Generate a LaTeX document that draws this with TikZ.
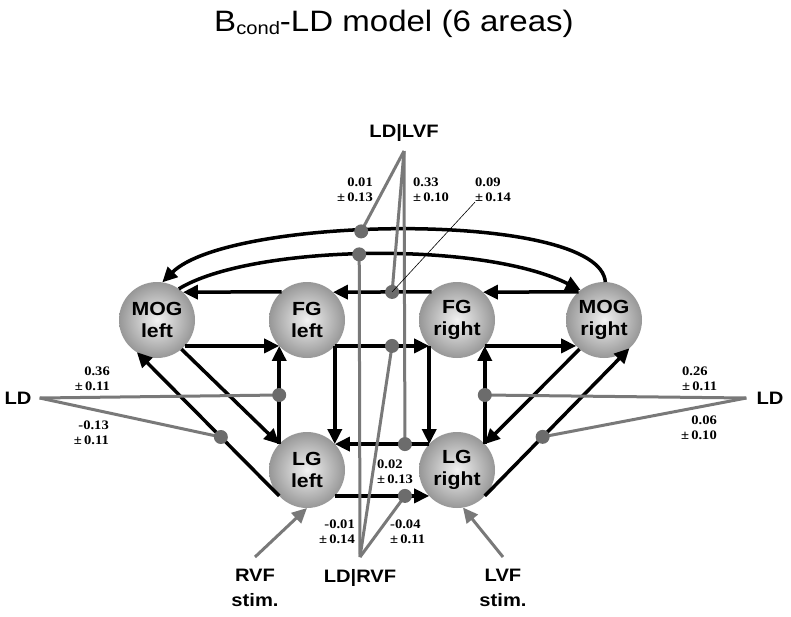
\documentclass[tikz,border=0pt]{standalone}
\usepackage{fontspec}
\setmainfont{Liberation Sans}[FakeStretch=1.12]
\newfontfamily\numfont{Liberation Serif}[FakeStretch=1.12]
\usetikzlibrary{arrows.meta}
\definecolor{modgray}{HTML}{797979}
\definecolor{dotgray}{HTML}{6C6C6C}
\definecolor{ballin}{HTML}{F2F2F2}
\definecolor{ballout}{HTML}{979797}
\tikzset{
  area/.style={circle,minimum size=76pt,inner sep=0pt,outer sep=0pt,
    inner color=ballin,outer color=ballout,align=center,
    font=\fontsize{19}{22}\selectfont\bfseries},
  conn/.style={line width=3.5pt,-{Triangle[length=15pt,width=14pt]}},
  modline/.style={modgray,line width=3pt},
  inarrow/.style={modgray,line width=3pt,-{Triangle[length=15pt,width=14pt]}},
  modlabel/.style={align=center,font=\fontsize{18}{25}\selectfont\bfseries},
  est/.style={inner sep=0pt,font=\numfont\fontsize{13}{15}\selectfont\bfseries}
}
\begin{document}
\begin{tikzpicture}[x=1pt,y=-1pt]
  \useasboundingbox (0,0) rectangle (791,616);
  \node[font=\fontsize{29.5}{36}\selectfont] (title) at (394,24)
    {B\raisebox{-2.5pt}{\fontsize{18}{18}\selectfont cond}-LD model (6 areas)};

  \node[area] (MOGl) at (157,320) {MOG\\left};
  \node[area] (FGl) at (307,320) {FG\\left};
  \node[area] (FGr) at (457,320) {FG\\right};
  \node[area] (MOGr) at (604,320) {MOG\\right};
  \node[area] (LGl) at (307,470) {LG\\left};
  \node[area] (LGr) at (457,470) {LG\\right};

  \node[modlabel,inner xsep=8pt] (LDl) at (18,398) {LD};
  \node[modlabel,inner xsep=10pt] (LDr) at (770,398) {LD};
  \node[modlabel,anchor=south,inner ysep=9pt] (LDLVF) at (404,151) {LD|LVF};
  \node[modlabel,anchor=north,inner ysep=12pt] (LDRVF) at (360,557) {LD|RVF};
  \node[modlabel,anchor=north,inner ysep=12pt] (RVF) at (255,557) {RVF\\stim.};
  \node[modlabel,anchor=north,inner ysep=12pt] (LVF) at (503,557) {LVF\\stim.};

  \begin{scope}[conn]
    \draw (FGl.132.5) -- (MOGl.47.5);
    \draw (FGr.132.5) -- coordinate[pos=0.4] (mFGrl) (FGl.47.5);
    \draw (MOGr.132.5) -- (FGr.47.5);
    \draw (MOGl.-43) -- (FGl.-137);
    \draw (FGl.-43) -- coordinate[pos=0.606] (mFGlr) (FGr.-137);
    \draw (FGr.-43) -- (MOGr.-137);
    \draw (FGl.-43) -- (LGl.43);
    \draw (FGr.-137) -- (LGr.137);
    \draw (LGl.137) -- coordinate[pos=0.5] (mLDl) (FGl.-137);
    \draw (LGr.43) -- coordinate[pos=0.5] (mLDr) (FGr.-43);
    \draw (LGr.137) -- coordinate[pos=0.257] (mLGrl) (LGl.43);
    \draw (LGl.-43) -- coordinate[pos=0.743] (mLGlr) (LGr.-137);
    \draw (MOGl.-50) -- (LGl.137);
    \draw (LGl.-137) -- coordinate[pos=0.41] (mLDl2) (MOGl.-122);
    \draw (MOGr.-130) -- (LGr.43);
    \draw (LGr.-43) -- coordinate[pos=0.4] (mLDr2) (MOGr.-48);
    \draw (MOGr.88) .. controls (600,210) and (230,215) .. coordinate[pos=0.575] (mOut) (MOGl.82);
    \draw (MOGl.55) .. controls (250,245) and (480,240) .. coordinate[pos=0.48] (mIn) (MOGr.128);
  \end{scope}

  \begin{scope}[modline]
    \draw (LDl.east) -- (mLDl);
    \draw (LDl.east) -- (mLDl2);
    \draw (LDr.west) -- (mLDr);
    \draw (LDr.west) -- (mLDr2);
    \draw (LDLVF.south) -- (mOut);
    \draw (LDLVF.south) -- (mFGrl);
    \draw (LDLVF.south) -- (mLGrl);
    \draw (LDRVF.north) -- (mIn);
    \draw (LDRVF.north) -- (mFGlr);
    \draw (LDRVF.north) -- (mLGlr);
  \end{scope}
  \draw[inarrow] (RVF.north) -- (LGl.-90);
  \draw[inarrow] (LVF.north) -- (LGr.-81);
  \foreach \m in {mLDl,mLDl2,mLDr,mLDr2,mOut,mIn,mFGrl,mFGlr,mLGrl,mLGlr}
    \fill[dotgray] (\m) circle (7pt);

  \node[est,anchor=east,align=right] (e036) at (110,379) {0.36\\±\,0.11};
  \node[est,anchor=east,align=right] (e013) at (109,433) {-0.13\\±\,0.11};
  \node[est,anchor=west,align=left] (e026) at (682,379) {0.26\\±\,0.11};
  \node[est,anchor=east,align=right] (e006) at (717,428) {0.06\\±\,0.10};
  \node[est,anchor=east,align=right] (e001) at (373,190) {0.01\\±\,0.13};
  \node[est,anchor=west,align=left] (e033) at (413,190) {0.33\\±\,0.10};
  \node[est,anchor=west,align=left] (e009) at (475,190) {0.09\\±\,0.14};
  \node[est,anchor=west,align=left] (e002) at (377,472) {0.02\\±\,0.13};
  \node[est,anchor=east,align=right] (e001b) at (355,532) {-0.01\\±\,0.14};
  \node[est,anchor=west,align=left] (e004) at (390,532) {-0.04\\±\,0.11};
  \draw[line width=0.6pt] (e009.south west) -- (mFGrl);
\end{tikzpicture}
\end{document}
